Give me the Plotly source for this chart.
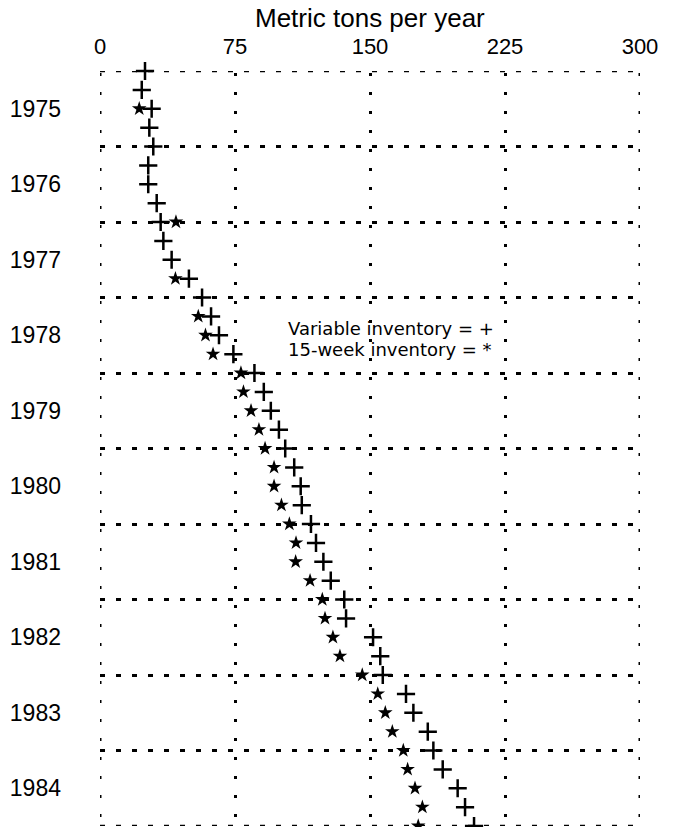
import plotly.graph_objects as go

# Quarterly estimates, 1975 Q1 through 1985 Q1 (metric tons per year)
first_year = 1975
last_year = 1985
year_labels = ["1975", "1976", "1977", "1978", "1979",
               "1980", "1981", "1982", "1983", "1984"]
x_ticks = [0, 75, 150, 225, 300]

variable_inventory = [
    25.0, 23.2, 28.7, 27.4, 29.6, 26.8, 26.8, 31.5, 33.7, 35.2,
    39.8, 49.4, 56.7, 61.7, 66.1, 74.1, 85.8, 91.0, 94.9, 99.4,
    102.9, 107.9, 111.5, 112.1, 117.2, 120.0, 124.1, 128.2, 135.7, 136.7,
    151.7, 155.7, 157.1, 170.0, 174.1, 182.1, 185.2, 190.4, 198.7, 202.8,
    207.8,
]
fifteen_week_inventory = [
    None, None, 21.8, None, None, None, None, None, 42.2, None,
    None, 41.9, None, 54.6, 58.6, 62.8, 78.3, 79.7, 83.9, 88.3,
    91.7, 96.7, 96.7, 100.8, 105.2, 108.9, 108.7, 116.7, 123.5, 125.0,
    129.4, 133.3, 145.7, 154.3, 158.5, 162.4, 168.5, 170.9, 175.0, 179.1,
    176.8,
]

quarters = [first_year + k / 4 for k in range(len(variable_inventory))]
year_mid = [int(y) + 0.5 for y in year_labels]
year_edges = list(range(first_year, last_year + 1))

FONT = "Liberation Sans, Arial, Helvetica, sans-serif"
KEY_FONT = "DejaVu Sans, Liberation Sans, sans-serif"

X_DOTS = dict(color="black", width=3, dash="0px,2px,3px,14px")
Y_DASHES = dict(color="black", width=2.6, dash="5px,11px")

fig = go.Figure()
fig.add_trace(go.Scatter(
    x=fifteen_week_inventory, y=quarters, mode="markers",
    name="15-week inventory", cliponaxis=False,
    marker=dict(symbol="star", size=11, color="black",
                line=dict(width=0)),
))
fig.add_trace(go.Scatter(
    x=variable_inventory, y=quarters, mode="markers",
    name="Variable inventory", cliponaxis=False,
    marker=dict(symbol="cross-thin", size=13,
                line=dict(width=2.5, color="black")),
))

# Frame edges share the grid styling (the grid skips the outermost lines)
for xv in (x_ticks[0], x_ticks[-1]):
    fig.add_shape(type="line", xref="x", yref="y", layer="below",
                  x0=xv, x1=xv, y0=first_year, y1=last_year, line=X_DOTS)
for yv in (year_edges[0], year_edges[-1]):
    fig.add_shape(type="line", xref="x", yref="y", layer="below",
                  x0=x_ticks[0], x1=x_ticks[-1], y0=yv, y1=yv, line=Y_DASHES)

# In-plot key
fig.add_annotation(x=103.5, y=1978.41, xref="x", yref="y",
                   text="Variable inventory = +", showarrow=False,
                   xanchor="left", yanchor="middle",
                   font=dict(family=KEY_FONT, size=18, color="black"))
fig.add_annotation(x=103.5, y=1978.69, xref="x", yref="y",
                   text="15-week inventory = *", showarrow=False,
                   xanchor="left", yanchor="middle",
                   font=dict(family=KEY_FONT, size=18, color="black"))

# Axis title above the top tick labels
fig.add_annotation(x=0.5, y=1.07, xref="paper", yref="paper",
                   text="Metric tons per year", showarrow=False,
                   xanchor="center", yanchor="middle",
                   font=dict(family=FONT, size=26, color="black"))

fig.update_layout(
    width=683, height=827,
    margin=dict(l=100, r=43, t=71, b=1),
    paper_bgcolor="white", plot_bgcolor="white",
    showlegend=False,
    font=dict(family=FONT, color="black"),
)
fig.update_xaxes(
    range=[x_ticks[0], x_ticks[-1]], side="top",
    tickvals=x_ticks, ticktext=[str(v) for v in x_ticks],
    tickfont=dict(size=22), ticks="", ticklabelstandoff=12,
    showgrid=True, gridcolor=X_DOTS["color"], gridwidth=X_DOTS["width"],
    griddash=X_DOTS["dash"],
    zeroline=False, showline=False,
)
fig.update_yaxes(
    range=[last_year, first_year],
    tickvals=year_mid, ticktext=year_labels,
    tickfont=dict(size=23), ticks="", ticklabelstandoff=38,
    showgrid=False, zeroline=False, showline=False,
    minor=dict(tickvals=year_edges, showgrid=True,
               gridcolor=Y_DASHES["color"], gridwidth=Y_DASHES["width"],
               griddash=Y_DASHES["dash"], ticks=""),
)

fig.write_html("out.html")
